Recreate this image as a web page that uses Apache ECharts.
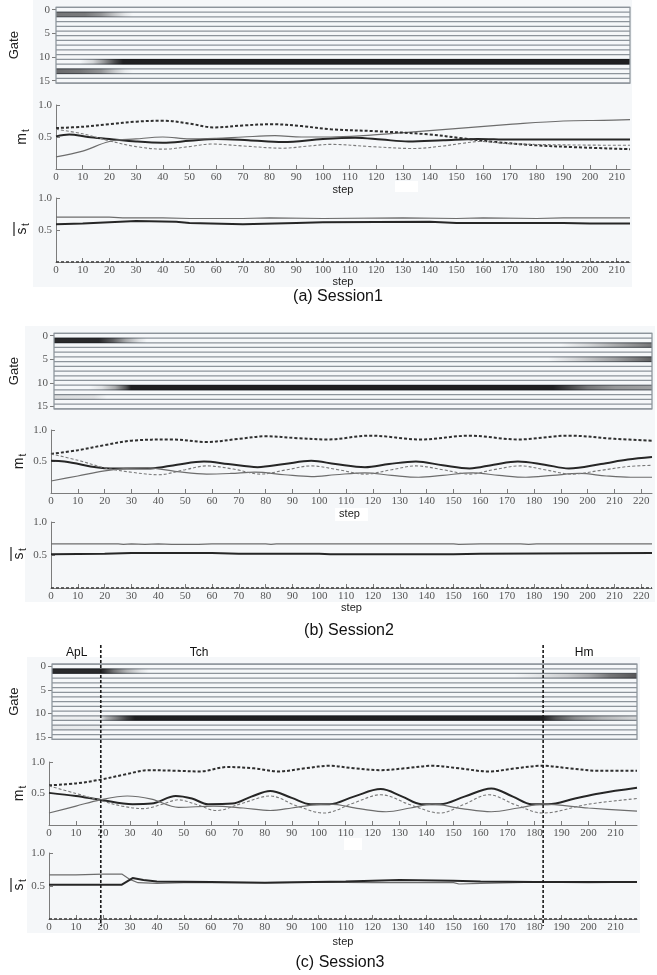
<!DOCTYPE html>
<html><head><meta charset="utf-8">
<script src="https://cdn.jsdelivr.net/npm/echarts@6/dist/echarts.min.js"></script>
<style>html,body{margin:0;padding:0;background:#fff}#c{width:657px;height:975px}</style>
</head><body><div id="c"></div>
<script>
// ---------- Session 1 ----------
const s1Gate1 = [[0,0.6],[11,0.58],[17,0.45],[22,0.22],[26,0.07],[29,0]];
const s1Gate11 = [[9,0],[14,0.15],[18,0.45],[22,0.8],[25,1],[215,1]];
const s1Gate13 = [[0,0.65],[9,0.6],[17,0.45],[22,0.2],[26,0.05],[29,0]];
const s1MThick = [[0,0.51],[5,0.54],[12,0.5],[20,0.47],[30,0.43],[40,0.41],[50,0.44],[60,0.47],[72,0.45],[85,0.42],[100,0.47],[112,0.49],[122,0.46],[132,0.43],[145,0.45],[158,0.47],[170,0.46],[185,0.46],[200,0.46],[215,0.46]];
const s1MThin = [[0,0.19],[10,0.28],[20,0.43],[30,0.47],[40,0.5],[50,0.47],[60,0.48],[70,0.5],[82,0.52],[92,0.5],[103,0.5],[115,0.52],[128,0.56],[140,0.6],[152,0.64],[171,0.7],[190,0.75],[205,0.76],[215,0.77]];
const s1MDashThick = [[0,0.64],[10,0.66],[20,0.7],[30,0.74],[40,0.755],[50,0.71],[59,0.65],[70,0.68],[81,0.7],[92,0.67],[103,0.62],[120,0.59],[140,0.54],[152,0.48],[165,0.42],[178,0.375],[195,0.34],[215,0.31]];
const s1MDashThin = [[0,0.62],[10,0.55],[20,0.44],[30,0.35],[40,0.31],[50,0.35],[58,0.39],[70,0.36],[85,0.325],[95,0.36],[103,0.385],[118,0.35],[134,0.32],[145,0.36],[152,0.4],[159,0.43],[168,0.4],[178,0.385],[195,0.375],[215,0.37]];
const s1SThin = [[0,0.7],[20,0.7],[25,0.69],[40,0.69],[50,0.68],[70,0.68],[80,0.69],[100,0.68],[130,0.69],[150,0.68],[160,0.69],[180,0.68],[190,0.69],[215,0.69]];
const s1SThick = [[0,0.59],[10,0.6],[30,0.64],[45,0.63],[50,0.61],[70,0.59],[90,0.61],[100,0.62],[140,0.63],[150,0.61],[190,0.61],[200,0.6],[215,0.6]];

// ---------- Session 2 ----------
const s2Gate1 = [[0,0.95],[17,0.95],[22,0.7],[27,0.35],[32,0.1],[35,0]];
const s2Gate2 = [[190,0],[200,0.15],[210,0.35],[224,0.6]];
const s2Gate5 = [[185,0],[195,0.15],[210,0.4],[224,0.7]];
const s2Gate11 = [[13,0],[18,0.1],[23,0.35],[27,0.75],[29,1],[187,1],[192,0.85],[200,0.6],[210,0.45],[224,0.4]];
const s2Gate13 = [[0,0.12],[15,0.1],[20,0]];
const s2MThick = [[0,0.51],[5,0.5],[22,0.39],[37,0.39],[47,0.45],[57,0.5],[66,0.46],[77,0.41],[87,0.46],[97,0.51],[106,0.46],[117,0.41],[126,0.46],[136,0.5],[146,0.44],[156,0.39],[165,0.45],[174,0.5],[184,0.45],[193,0.39],[205,0.46],[215,0.53],[224,0.57]];
const s2MThin = [[0,0.19],[10,0.27],[20,0.35],[28,0.39],[36,0.4],[47,0.34],[58,0.3],[67,0.31],[76,0.33],[87,0.29],[97,0.26],[106,0.29],[117,0.32],[127,0.28],[137,0.25],[146,0.28],[157,0.32],[167,0.28],[177,0.25],[187,0.28],[197,0.31],[207,0.27],[216,0.25],[224,0.25]];
const s2MDashThick = [[0,0.62],[10,0.68],[20,0.76],[30,0.83],[45,0.85],[58,0.81],[70,0.86],[80,0.9],[92,0.87],[103,0.85],[119,0.91],[138,0.85],[156,0.91],[174,0.85],[193,0.91],[210,0.86],[224,0.83]];
const s2MDashThin = [[0,0.62],[10,0.52],[20,0.4],[30,0.33],[40,0.29],[50,0.37],[58,0.43],[68,0.38],[78,0.3],[88,0.37],[97,0.43],[107,0.37],[117,0.3],[127,0.37],[136,0.43],[146,0.37],[156,0.3],[165,0.37],[175,0.43],[184,0.37],[194,0.3],[205,0.36],[215,0.42],[224,0.44]];
const s2SThin = [[0,0.67],[25,0.67],[27,0.66],[30,0.67],[35,0.66],[40,0.67],[45,0.66],[55,0.66],[60,0.67],[80,0.67],[82,0.66],[84,0.67],[150,0.67],[152,0.66],[160,0.67],[175,0.67],[178,0.66],[181,0.67],[224,0.67]];
const s2SThick = [[0,0.51],[20,0.52],[30,0.53],[60,0.53],[70,0.52],[100,0.52],[104,0.51],[150,0.51],[160,0.52],[224,0.53]];

// ---------- Session 3 ----------
const s3Gate1 = [[0,0.95],[19,0.95],[23,0.6],[28,0.3],[33,0.08],[36,0]];
const s3Gate2 = [[172,0],[183,0.1],[192,0.2],[200,0.35],[208,0.6],[218,0.75]];
const s3Gate11 = [[0,0.04],[18,0.04],[20,0.3],[24,0.55],[28,0.85],[31,1],[183,1],[188,0.75],[195,0.5],[205,0.3],[218,0.15]];
const s3Gate13 = [[0,0.06],[18,0.05],[20,0]];
const s3MThick = [[0,0.51],[10,0.46],[19,0.4],[31,0.33],[38,0.34],[47,0.46],[53,0.42],[59,0.33],[68,0.34],[75,0.45],[82,0.54],[90,0.43],[97,0.33],[104,0.33],[113,0.45],[123,0.57],[131,0.45],[138,0.33],[145,0.33],[154,0.45],[164,0.58],[172,0.45],[179,0.33],[185,0.33],[195,0.42],[204,0.5],[218,0.59]];
const s3MThin = [[0,0.19],[10,0.3],[19,0.4],[29,0.46],[38,0.41],[48,0.28],[61,0.3],[72,0.27],[82,0.23],[90,0.27],[98,0.32],[104,0.33],[115,0.26],[125,0.21],[134,0.27],[142,0.33],[153,0.26],[164,0.21],[174,0.27],[183,0.33],[200,0.27],[218,0.22]];
const s3MDashThick = [[0,0.63],[10,0.66],[19,0.72],[28,0.8],[37,0.87],[48,0.86],[56,0.85],[66,0.92],[76,0.9],[85,0.85],[95,0.9],[104,0.94],[113,0.9],[123,0.87],[132,0.9],[142,0.94],[152,0.9],[163,0.85],[173,0.9],[183,0.94],[193,0.9],[204,0.86],[218,0.86]];
const s3MDashThin = [[0,0.62],[10,0.5],[19,0.39],[27,0.3],[35,0.26],[42,0.33],[48,0.4],[55,0.32],[62,0.23],[72,0.35],[82,0.46],[92,0.3],[102,0.19],[113,0.35],[123,0.48],[134,0.32],[145,0.19],[154,0.33],[163,0.48],[173,0.32],[183,0.19],[200,0.33],[218,0.42]];
const s3SThin = [[0,0.67],[10,0.67],[20,0.68],[27,0.68],[30,0.6],[33,0.55],[40,0.54],[50,0.55],[60,0.55],[80,0.55],[100,0.56],[120,0.55],[150,0.55],[152,0.53],[160,0.54],[180,0.56],[200,0.55],[218,0.56]];
const s3SThick = [[0,0.52],[27,0.52],[31,0.62],[35,0.59],[40,0.57],[60,0.56],[80,0.55],[110,0.57],[130,0.59],[150,0.58],[160,0.57],[180,0.56],[200,0.56],[218,0.56]];
const s3Phases = [19.2, 183.2];
const s3PhaseNames = ['ApL', 'Tch', 'Hm'];
const s3PhaseNameSteps = [10.3, 55.6, 198.4];

const GATE_COUNT = 16;
const TICK_FONT = 'Liberation Serif';
const SANS = 'Liberation Sans';

// panel geometry
const panels = [
  { caption: '(a) Session1', capX: 338, capY: 297, xMax: 215, left: 56, right: 27, gateTop: 9.7, gateH: 71, mTop: 105, mH: 64, sTop: 198, sH: 64,
    bg: [33, 0, 599, 287], mStep: true, mGap: 15, sGap: 13, labelX: 20,
    gates: [[1, s1Gate1], [11, s1Gate11], [13, s1Gate13]],
    m: [s1MThick, s1MThin, s1MDashThick, s1MDashThin], s: [s1SThick, s1SThin] },
  { caption: '(b) Session2', capX: 349, capY: 631, xMax: 224, left: 51, right: 5, gateTop: 335.7, gateH: 70.7, mTop: 430, mH: 63, sTop: 522, sH: 66,
    bg: [25, 326, 630, 276], mStep: true, mStepBg: true, mGap: 14, sGap: 14, labelX: 17,
    gates: [[1, s2Gate1], [2, s2Gate2], [5, s2Gate5], [11, s2Gate11], [13, s2Gate13]],
    m: [s2MThick, s2MThin, s2MDashThick, s2MDashThin], s: [s2SThick, s2SThin] },
  { caption: '(c) Session3', capX: 340, capY: 963, xMax: 218, left: 49, right: 20, gateTop: 666.4, gateH: 70.5, mTop: 762, mH: 63, sTop: 853, sH: 66,
    bg: [27, 657, 613, 276], mStep: false, mGap: 14, sGap: 17, labelX: 17,
    gates: [[1, s3Gate1], [2, s3Gate2], [11, s3Gate11], [13, s3Gate13]],
    m: [s3MThick, s3MThin, s3MDashThick, s3MDashThin], s: [s3SThick, s3SThin] }
];

function shade(v) { return 'rgba(20,20,22,' + (v * 0.95).toFixed(3) + ')'; }

function gateCells(tracks) {
  const out = [];
  tracks.forEach(function (t) {
    const row = t[0], pts = t[1];
    for (let i = 0; i < pts.length - 1; i++) out.push([pts[i][0], pts[i + 1][0], row, pts[i][1], pts[i + 1][1]]);
  });
  return out;
}

const grids = [], xAxes = [], yAxes = [], series = [], graphics = [];
const axisColor = '#7c7c7c';

panels.forEach(function (p, k) {
  const gi = 3 * k, mi = gi + 1, si = gi + 2;
  graphics.push({ type: 'rect', z: -10, shape: { x: p.bg[0], y: p.bg[1], width: p.bg[2], height: p.bg[3] }, style: { fill: '#f5f7f9' } });

  // gate strip
  grids.push({ left: p.left, right: p.right, top: p.gateTop, height: p.gateH });
  xAxes.push({ gridIndex: gi, type: 'value', min: 0, max: p.xMax, show: false });
  yAxes.push({ gridIndex: gi, type: 'value', inverse: true, min: 0, max: 15, interval: 5,
    axisLine: { show: false }, splitLine: { show: false },
    axisTick: { show: true, length: 4, lineStyle: { color: axisColor } },
    axisLabel: { margin: 6, fontFamily: TICK_FONT, fontSize: 11, color: '#555' },
    name: 'Gate', nameLocation: 'middle', nameRotate: 90, nameGap: p.left - p.labelX - 1,
    nameTextStyle: { fontFamily: SANS, fontSize: 13, color: '#222' } });
  const bounds = [];
  for (let r = 0; r <= GATE_COUNT; r++) bounds.push([0, r - 0.5]);
  series.push({ type: 'custom', xAxisIndex: gi, yAxisIndex: gi, silent: true, clip: false, z: 2,
    encode: { x: 0, y: 1 }, data: bounds,
    renderItem: function (params, api) {
      const a = api.coord([0, api.value(1)]);
      const b = api.coord([p.xMax, api.value(1)]);
      return { type: 'line', shape: { x1: a[0], y1: a[1], x2: b[0], y2: b[1] }, style: { stroke: '#8d949b', lineWidth: 1.25 } };
    } });
  series.push({ type: 'custom', xAxisIndex: gi, yAxisIndex: gi, silent: true, clip: false, z: 3,
    encode: { x: [0, 1], y: 2 }, data: gateCells(p.gates),
    renderItem: function (params, api) {
      const a = api.coord([api.value(0), api.value(2) - 0.5]);
      const b = api.coord([api.value(1), api.value(2) + 0.5]);
      const x0 = Math.round(a[0]), x1 = Math.round(b[0]);
      return { type: 'rect', shape: { x: x0, y: a[1] - 0.3, width: Math.max(x1 - x0, 1), height: b[1] - a[1] + 0.6 },
        style: { fill: new echarts.graphic.LinearGradient(0, 0, 1, 0, [{ offset: 0, color: shade(api.value(3)) }, { offset: 1, color: shade(api.value(4)) }]) } };
    } });
  series.push({ type: 'custom', xAxisIndex: gi, yAxisIndex: gi, silent: true, clip: false, z: 4,
    encode: { x: 0, y: 1 }, data: [[0, -0.5]],
    renderItem: function (params, api) {
      const a = api.coord([0, -0.5]);
      const b = api.coord([p.xMax, GATE_COUNT - 0.5]);
      return { type: 'rect', shape: { x: a[0], y: a[1], width: b[0] - a[0], height: b[1] - a[1] }, style: { fill: null, stroke: '#8d949b', lineWidth: 1.25 } };
    } });

  // m_t and s_t plots
  [[mi, p.mTop, p.mH, p.mStep, p.mStepBg, p.mGap], [si, p.sTop, p.sH, true, false, p.sGap]].forEach(function (c) {
    grids.push({ left: p.left, right: p.right, top: c[1], height: c[2] });
    xAxes.push({ gridIndex: c[0], type: 'value', min: 0, max: p.xMax, interval: 10,
      axisLine: { lineStyle: { color: axisColor, width: 1 } },
      axisTick: { inside: true, length: 4, lineStyle: { color: axisColor } },
      splitLine: { show: false },
      axisLabel: { margin: 3, fontFamily: TICK_FONT, fontSize: 11, color: '#555', showMaxLabel: false },
      name: c[3] ? 'step' : '', nameLocation: 'middle', nameGap: c[5],
      nameTextStyle: { fontFamily: SANS, fontSize: 11, color: '#222', backgroundColor: c[4] ? '#fff' : 'transparent', padding: c[4] ? [1, 8, 1, 4] : 0 } });
    yAxes.push({ gridIndex: c[0], type: 'value', min: 0, max: 1, interval: 0.5,
      axisLine: { show: true, lineStyle: { color: axisColor, width: 1 } },
      axisTick: { show: true, inside: true, length: 4, lineStyle: { color: axisColor } },
      splitLine: { show: false },
      axisLabel: { margin: 4, fontFamily: TICK_FONT, fontSize: 11, color: '#555', formatter: function (v) { return v === 0 ? '' : v.toFixed(1); } } });
  });

  const lineBase = { type: 'line', showSymbol: false, silent: true, animation: false };
  const mStyles = [
    { color: '#262626', width: 2, type: 'solid' },
    { color: '#6d6d6d', width: 1.2, type: 'solid' },
    { color: '#2f2f2f', width: 2, type: [3, 2] },
    { color: '#7a7a7a', width: 1.1, type: [3, 2] }
  ];
  p.m.forEach(function (d, j) {
    series.push(Object.assign({}, lineBase, { xAxisIndex: mi, yAxisIndex: mi, data: d, smooth: 0.35, lineStyle: mStyles[j], itemStyle: { color: mStyles[j].color } }));
  });
  series.push(Object.assign({}, lineBase, { xAxisIndex: si, yAxisIndex: si, data: p.s[1], lineStyle: mStyles[1], itemStyle: { color: mStyles[1].color } }));
  series.push(Object.assign({}, lineBase, { xAxisIndex: si, yAxisIndex: si, data: p.s[0], lineStyle: mStyles[0], itemStyle: { color: mStyles[0].color } }));
  series.push(Object.assign({}, lineBase, { xAxisIndex: si, yAxisIndex: si, data: [[0, 0], [p.xMax, 0]], z: 4, lineStyle: { color: '#333', width: 1.5, type: [3, 2] } }));

  // rotated axis names m_t and s̄_t
  const mY = p.mTop + p.mH / 2, sY = p.sTop + p.sH / 2;
  graphics.push({ type: 'group', x: p.labelX + 2, y: mY, rotation: Math.PI / 2, z: 100, children: [
    { type: 'text', x: -2, y: 0, style: { text: 'm', fontFamily: SANS, fontSize: 14, fill: '#222', align: 'center', verticalAlign: 'middle' } },
    { type: 'text', x: 5, y: 4, style: { text: 't', fontFamily: SANS, fontSize: 10, fill: '#222', align: 'left', verticalAlign: 'middle' } }
  ] });
  graphics.push({ type: 'group', x: p.labelX + 2, y: sY, rotation: Math.PI / 2, z: 100, children: [
    { type: 'text', x: -1, y: 0, style: { text: 's', fontFamily: SANS, fontSize: 14, fill: '#222', align: 'center', verticalAlign: 'middle' } },
    { type: 'text', x: 4, y: 4, style: { text: 't', fontFamily: SANS, fontSize: 10, fill: '#222', align: 'left', verticalAlign: 'middle' } },
    { type: 'line', shape: { x1: -6, y1: -8, x2: 8, y2: -8 }, style: { stroke: '#222', lineWidth: 1.2 } }
  ] });

  graphics.push({ type: 'text', x: p.capX, y: p.capY, z: 100, style: { text: p.caption, fontFamily: SANS, fontSize: 16, fill: '#111', align: 'center', verticalAlign: 'middle' } });
});

// blank patches beside the middle axes
graphics.push({ type: 'rect', z: 50, shape: { x: 395, y: 181, width: 23, height: 11 }, style: { fill: '#fff' } });
graphics.push({ type: 'rect', z: 50, shape: { x: 344, y: 838, width: 18, height: 12 }, style: { fill: '#fff' } });

const chart = echarts.init(document.getElementById('c'));
chart.setOption({ animation: false, grid: grids, xAxis: xAxes, yAxis: yAxes, series: series, graphic: { elements: graphics } });

// phase boundaries of session 3
const phaseEls = [];
s3Phases.forEach(function (st) {
  const px = chart.convertToPixel({ xAxisIndex: 7 }, st);
  phaseEls.push({ type: 'line', z: 120, shape: { x1: px, y1: 645, x2: px, y2: 926 }, style: { stroke: '#1a1a1a', lineWidth: 1.6, lineDash: [3, 2] } });
});
s3PhaseNames.forEach(function (nm, i) {
  const px = chart.convertToPixel({ xAxisIndex: 7 }, s3PhaseNameSteps[i]);
  phaseEls.push({ type: 'text', z: 120, x: px, y: 653, style: { text: nm, fontFamily: SANS, fontSize: 12, fill: '#111', align: 'center', verticalAlign: 'middle' } });
});
chart.setOption({ graphic: { elements: graphics.concat(phaseEls) } });
</script></body></html>
